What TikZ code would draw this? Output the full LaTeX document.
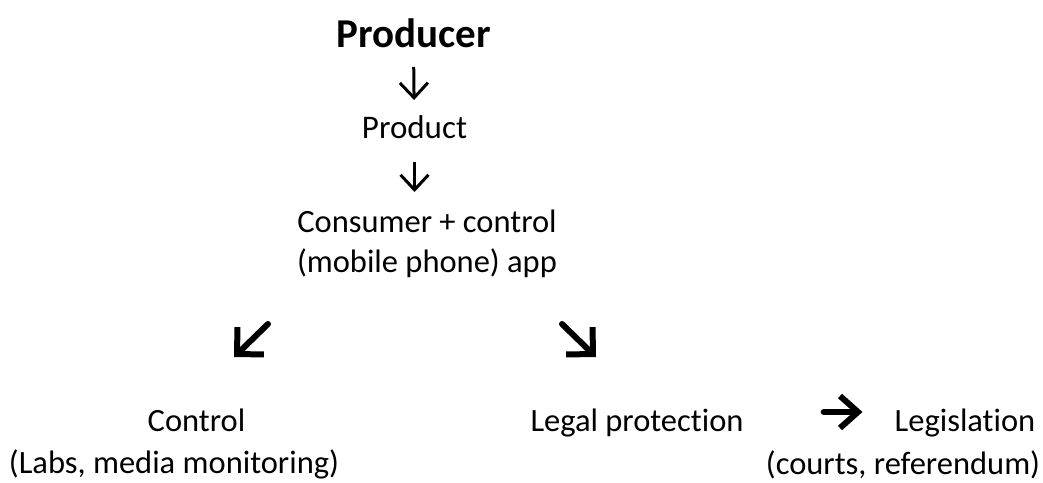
\documentclass[tikz,border=0pt]{standalone}
\usepackage{fontspec}
\setmainfont{Carlito}[Ligatures=NoCommon]
\usetikzlibrary{arrows.meta}

\begin{document}
\begin{tikzpicture}[x=1pt,y=-1pt,
  txt/.style={inner sep=0pt,anchor=base,align=center,font=\fontsize{32.5}{40}\selectfont},
  thinarrow/.style={line width=3pt,-{Straight Barb[width=28pt,length=15pt]}},
  boldarrow/.style={line width=6pt,line cap=round,-{Straight Barb[width=38pt,length=19pt]}}]
  \useasboundingbox (0,0) rectangle (1043,482);

  \node[txt,font=\fontsize{41}{46}\selectfont\bfseries] (producer) at (413.5,47) {Producer};
  \node[txt,font=\fontsize{33}{40}\selectfont] (product) at (414.5,138) {Product};
  \node[txt] (consumer) at (427,272) {Consumer + control\\(mobile phone) app};

  \draw[thinarrow,shorten <=20pt,shorten >=38pt] (producer.base) -- (product.base);
  \draw[thinarrow,shorten <=24pt,shorten >=80pt] (product.base) -- (product.base |- consumer.base);

  \coordinate (swtail) at (268,324);
  \coordinate (swtip) at (234,357);
  \coordinate (setail) at (562,324);
  \coordinate (setip) at (596,357);
  \draw[boldarrow] (swtail) -- (swtip);
  \draw[boldarrow] (setail) -- (setip);

  \node[txt] (control) at (196.5,431) {Control};
  \node[txt] (controlnote) at (174,473) {(Labs, media monitoring)};
  \node[txt] (legal) at (637,431) {Legal protection};
  \node[txt] (legislation) at (965,431) {Legislation};
  \node[txt] (legislationnote) at (903,474) {(courts, referendum)};

  \draw[line width=6pt,line cap=round,-{Straight Barb[width=32pt,length=18pt]},
    shorten <=80pt,shorten >=32pt] ([yshift=19pt]legal.base east) -- ([yshift=19pt]legislation.base west);
\end{tikzpicture}
\end{document}
